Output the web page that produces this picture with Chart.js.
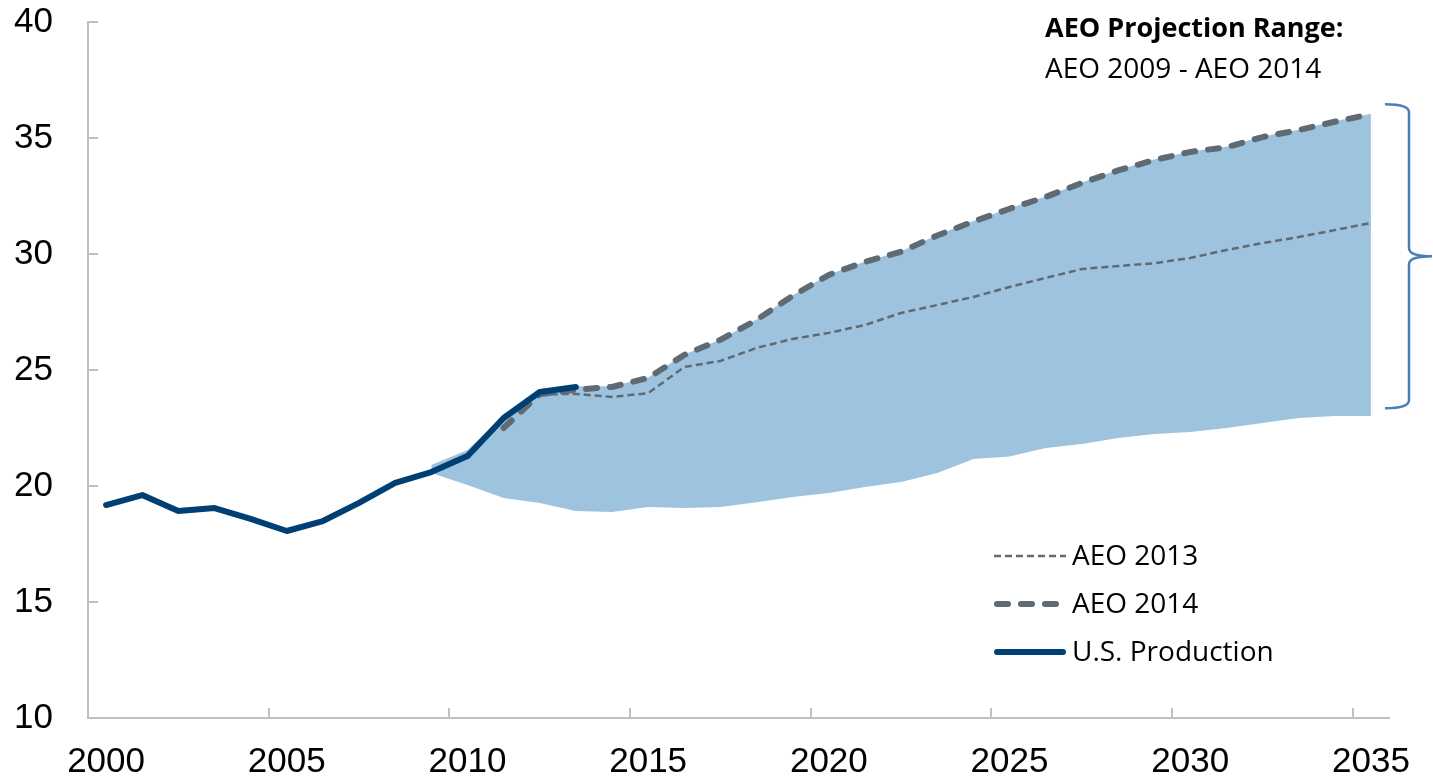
<!DOCTYPE html>
<html>
<head>
<meta charset="utf-8">
<script src="https://cdn.jsdelivr.net/npm/chart.js@4.4.0/dist/chart.umd.min.js"></script>
<style>
  body { margin: 0; background: #fff; }
  canvas { display: block; }
</style>
</head>
<body>
<canvas id="myChart" width="1433" height="780"></canvas>
<script>
const years = ['2000','2001','2002','2003','2004','2005','2006','2007','2008','2009',
    '2010','2011','2012','2013','2014','2015','2016','2017','2018','2019',
    '2020','2021','2022','2023','2024','2025','2026','2027','2028','2029',
    '2030','2031','2032','2033','2034','2035'];

const production = [19.18, 19.61, 18.92, 19.05, 18.58, 18.06, 18.49, 19.27, 20.13, 20.6,
    21.29, 22.93, 24.05, 24.27, null, null, null, null, null, null,
    null, null, null, null, null, null, null, null, null, null,
    null, null, null, null, null, null];

const aeo2014 = [null, null, null, null, null, null, null, null, null, null,
    null, 22.5, 23.95, 24.15, 24.27, 24.66, 25.65, 26.3, 27.16, 28.2,
    29.1, 29.66, 30.1, 30.8, 31.4, 31.95, 32.46, 33.06, 33.6, 34.05,
    34.4, 34.6, 35.04, 35.34, 35.7, 36.03];

const aeo2013 = [null, null, null, null, null, null, null, null, null, null,
    null, null, 23.95, 23.97, 23.84, 24.0, 25.13, 25.39, 25.95, 26.34,
    26.6, 26.94, 27.46, 27.8, 28.15, 28.58, 28.97, 29.35, 29.48, 29.6,
    29.83, 30.17, 30.47, 30.73, 31.03, 31.34];

const rangeLow = [null, null, null, null, null, null, null, null, null, 20.56,
    20.04, 19.48, 19.27, 18.92, 18.88, 19.1, 19.05, 19.1, 19.3, 19.53,
    19.7, 19.96, 20.17, 20.56, 21.16, 21.27, 21.64, 21.81, 22.07, 22.24,
    22.33, 22.5, 22.72, 22.93, 23.02, 23.02];

const rangeHigh = [null, null, null, null, null, null, null, null, null, 20.9,
    21.55, 23.0, 24.05, 24.3, 24.3, 24.68, 25.67, 26.32, 27.18, 28.22,
    29.12, 29.68, 30.12, 30.82, 31.42, 31.97, 32.48, 33.08, 33.62, 34.07,
    34.42, 34.62, 35.06, 35.36, 35.72, 36.05];

// brace on the right spans the projection range in 2035
const braceTop = 36.45;
const braceMid = 29.9;
const braceBottom = 23.35;

const NAVY = '#003f73';
const GRAY = '#5f6a72';
const FILL = '#9dc3df';
const AXIS = '#bfbfbf';
const TEXT_FONT = '"Open Sans", Lato, sans-serif';

const extras = {
    id: 'extras',
    afterDraw(chart) {
        const ctx = chart.ctx;
        const area = chart.chartArea;
        const x = chart.scales.x;
        const y = chart.scales.y;
        ctx.save();

        // inner tick marks
        ctx.strokeStyle = AXIS;
        ctx.lineWidth = 2;
        y.ticks.forEach(t => {
            if (t.value === y.min) return;
            const py = Math.round(y.getPixelForValue(t.value));
            ctx.beginPath();
            ctx.moveTo(area.left, py);
            ctx.lineTo(area.left + 10, py);
            ctx.stroke();
        });
        const half = (x.getPixelForValue(1) - x.getPixelForValue(0)) / 2;
        years.forEach((yr, i) => {
            if (i === 0 || Number(yr) % 5 !== 0) return;
            const px = Math.round(x.getPixelForValue(i) - half);
            ctx.beginPath();
            ctx.moveTo(px, area.bottom);
            ctx.lineTo(px, area.bottom - 10);
            ctx.stroke();
        });

        // legend
        const items = [
            { ds: chart.data.datasets[2], label: 'AEO 2013', cy: 556 },
            { ds: chart.data.datasets[1], label: 'AEO 2014', cy: 604 },
            { ds: chart.data.datasets[0], label: 'U.S. Production', cy: 652 }
        ];
        items.forEach(it => {
            ctx.beginPath();
            ctx.strokeStyle = it.ds.borderColor;
            ctx.lineWidth = it.ds.borderWidth;
            ctx.lineCap = it.ds.borderCapStyle || 'butt';
            ctx.setLineDash(it.ds.borderDash || []);
            const x0 = it.ds.borderWidth > 4 ? 997 : 994;
            const x1 = it.ds.borderWidth > 4 ? 1063 : 1066;
            ctx.moveTo(x0, it.cy);
            ctx.lineTo(x1, it.cy);
            ctx.stroke();
            ctx.setLineDash([]);
            ctx.fillStyle = '#000';
            ctx.font = '28px ' + TEXT_FONT;
            ctx.textBaseline = 'middle';
            ctx.textAlign = 'left';
            ctx.fillText(it.label, 1072, it.cy + 1);
        });

        // annotation text
        ctx.fillStyle = '#000';
        ctx.textBaseline = 'alphabetic';
        ctx.font = 'bold 27px ' + TEXT_FONT;
        ctx.fillText('AEO Projection Range:', 1045, 37);
        ctx.font = '28px ' + TEXT_FONT;
        ctx.fillText('AEO 2009 - AEO 2014', 1045, 78);

        // brace
        const yt = y.getPixelForValue(braceTop);
        const ym = y.getPixelForValue(braceMid);
        const yb = y.getPixelForValue(braceBottom);
        const bx0 = area.right - 4;
        const bx1 = bx0 + 24;
        const bx2 = bx0 + 47;
        ctx.strokeStyle = '#4a7ebb';
        ctx.lineWidth = 2.5;
        ctx.lineCap = 'butt';
        ctx.beginPath();
        ctx.moveTo(bx0, yt);
        ctx.quadraticCurveTo(bx1, yt, bx1, yt + 8);
        ctx.lineTo(bx1, ym - 8);
        ctx.quadraticCurveTo(bx1, ym, bx2, ym);
        ctx.quadraticCurveTo(bx1, ym, bx1, ym + 8);
        ctx.lineTo(bx1, yb - 8);
        ctx.quadraticCurveTo(bx1, yb, bx0, yb);
        ctx.stroke();

        ctx.restore();
    }
};

const data = {
    labels: years,
    datasets: [
        {
            label: 'U.S. Production',
            data: production,
            borderColor: NAVY,
            borderWidth: 6,
            borderCapStyle: 'round',
            borderJoinStyle: 'round',
            order: 0
        },
        {
            label: 'AEO 2014',
            data: aeo2014,
            borderColor: GRAY,
            borderWidth: 6,
            borderDash: [11, 13],
            borderCapStyle: 'round',
            order: 1
        },
        {
            label: 'AEO 2013',
            data: aeo2013,
            borderColor: GRAY,
            borderWidth: 2.5,
            borderDash: [7, 4],
            order: 2
        },
        {
            label: 'Range low',
            data: rangeLow,
            borderWidth: 0,
            borderColor: 'rgba(0,0,0,0)',
            fill: false,
            order: 5
        },
        {
            label: 'Range high',
            data: rangeHigh,
            borderWidth: 0,
            borderColor: 'rgba(0,0,0,0)',
            backgroundColor: FILL,
            fill: 3,
            order: 4
        }
    ]
};

const config = {
    type: 'line',
    data: data,
    options: {
        responsive: false,
        animation: false,
        events: [],
        layout: {
            padding: { top: 22, right: 44, left: 0, bottom: 0 }
        },
        elements: {
            point: { radius: 0 },
            line: { tension: 0 }
        },
        plugins: {
            legend: { display: false },
            tooltip: { enabled: false }
        },
        scales: {
            x: {
                type: 'category',
                offset: true,
                grid: { display: false, drawTicks: false },
                border: { color: AXIS, width: 2 },
                ticks: {
                    autoSkip: false,
                    maxRotation: 0,
                    padding: 23,
                    color: '#000',
                    font: { family: '"Liberation Sans", Arial, sans-serif', size: 35 },
                    callback: function(v) {
                        const lbl = this.getLabelForValue(v);
                        return Number(lbl) % 5 === 0 ? lbl : '';
                    }
                },
                afterFit(scale) {
                    scale.height = 62;
                    scale.paddingLeft = 0;
                    scale.paddingRight = 0;
                }
            },
            y: {
                min: 10,
                max: 40,
                ticks: {
                    stepSize: 5,
                    padding: 35,
                    color: '#000',
                    font: { family: '"Liberation Sans", Arial, sans-serif', size: 35 }
                },
                grid: { display: false, drawTicks: false },
                border: { color: AXIS, width: 2 },
                afterFit(scale) {
                    scale.width = 88;
                    scale.paddingTop = 0;
                    scale.paddingBottom = 0;
                }
            }
        }
    },
    plugins: [extras]
};

const myChart = new Chart(document.getElementById('myChart'), config);
</script>
</body>
</html>
